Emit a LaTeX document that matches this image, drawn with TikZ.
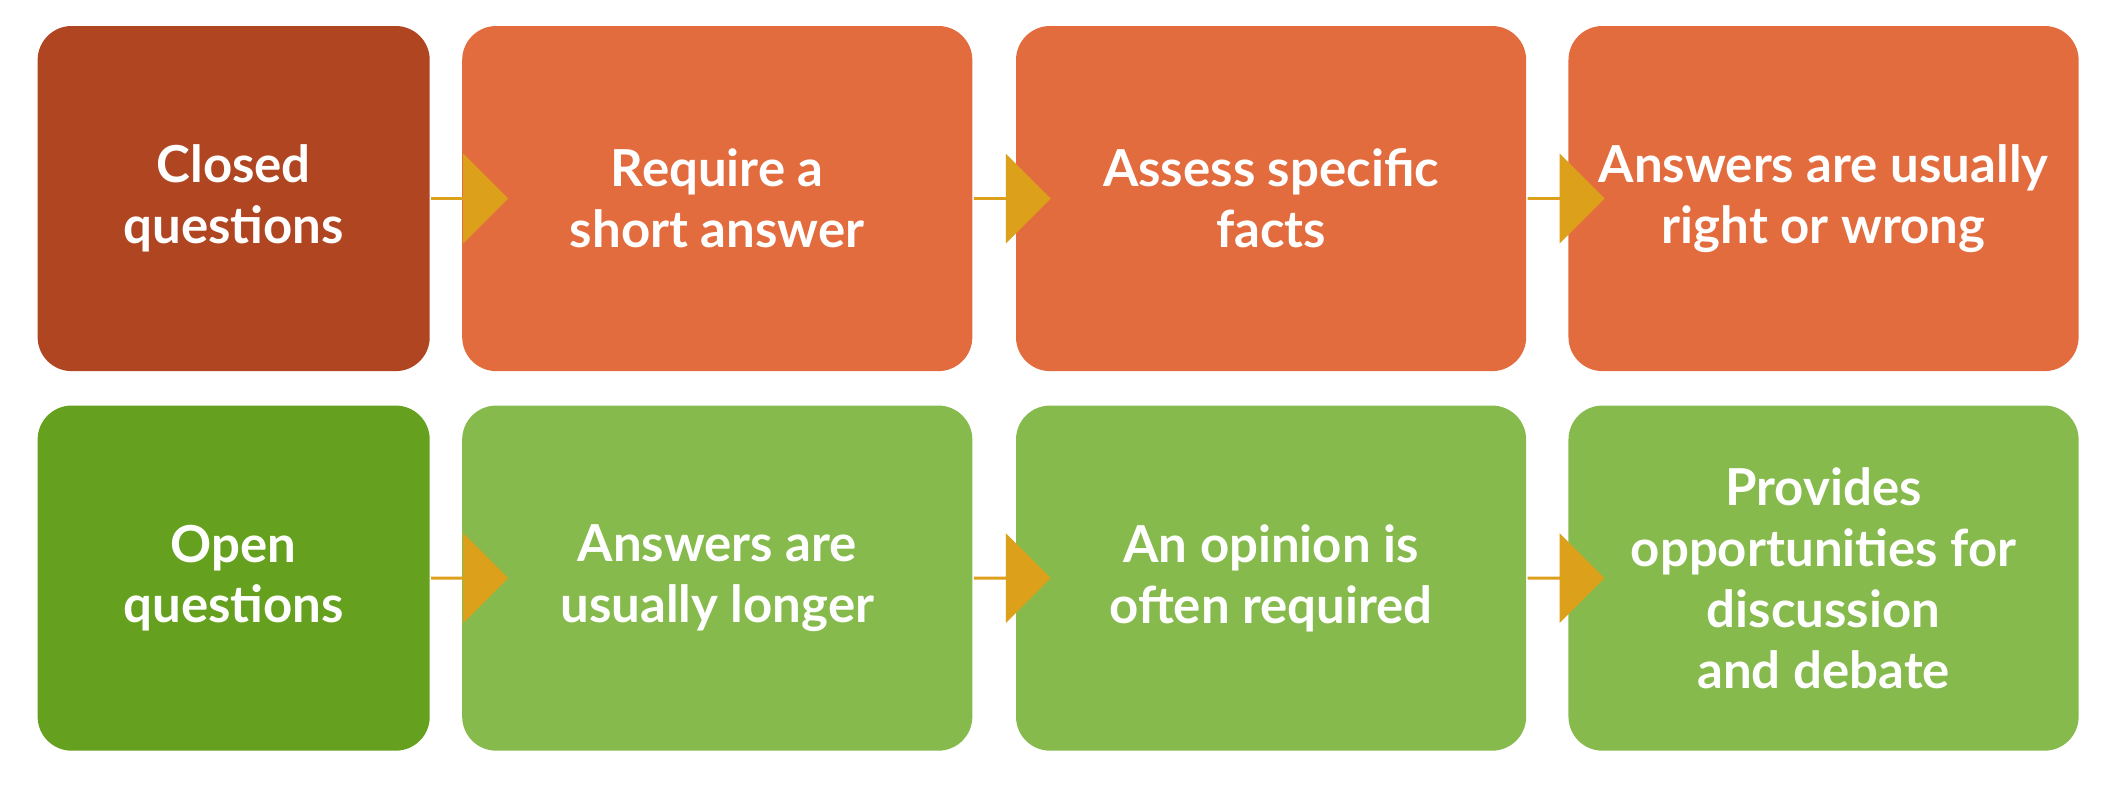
\documentclass[tikz,border=0pt]{standalone}
\usepackage{fontspec}
\setmainfont{Lato}
\usetikzlibrary{shapes.arrows}
\definecolor{darkred}{HTML}{B04522}
\definecolor{lightred}{HTML}{E36C3E}
\definecolor{darkgreen}{HTML}{65A01E}
\definecolor{lightgreen}{HTML}{86BA4D}
\definecolor{arrowgold}{HTML}{DCA01A}
\tikzset{
  card/.style={rounded corners=0.34cm, minimum height=3.45cm, text=white,
    align=center, inner sep=0pt, font=\fontsize{14.5}{17.3}\selectfont\bfseries},
  small/.style={card, minimum width=3.92cm},
  wide/.style={card, minimum width=5.1cm},
  arr/.style={single arrow, fill=arrowgold, minimum height=0.77cm,
    minimum width=0.9cm, single arrow head extend=0.215cm, inner sep=0pt, anchor=west}
}
\begin{document}
\begin{tikzpicture}[x=0.01351cm,y=-0.01351cm]
\useasboundingbox (0,0) rectangle (1568,587);
% top row
\node[small, fill=darkred] (c1) at (173,147) {Closed\\questions};
\node[wide, fill=lightred] (c2) at (531,147) {Require a\\short answer};
\node[wide, fill=lightred] (c3) at (941,147) {Assess specific\\facts};
\node[wide, fill=lightred] (c4) at (1350,147) {Answers are usually\\right or wrong};
% bottom row
\node[small, fill=darkgreen] (o1) at (173,428) {Open\\questions};
\node[wide, fill=lightgreen] (o2) at (531,428) {Answers are\\usually longer};
\node[wide, fill=lightgreen] (o3) at (941,428) {An opinion is\\often required};
\node[wide, fill=lightgreen] (o4) at (1350,428) {Provides\\opportunities for\\discussion\\and debate};
% arrows
\foreach \a in {c1,c2,c3,o1,o2,o3}
  \node[arr] at (\a.east) {};
\end{tikzpicture}
\end{document}
